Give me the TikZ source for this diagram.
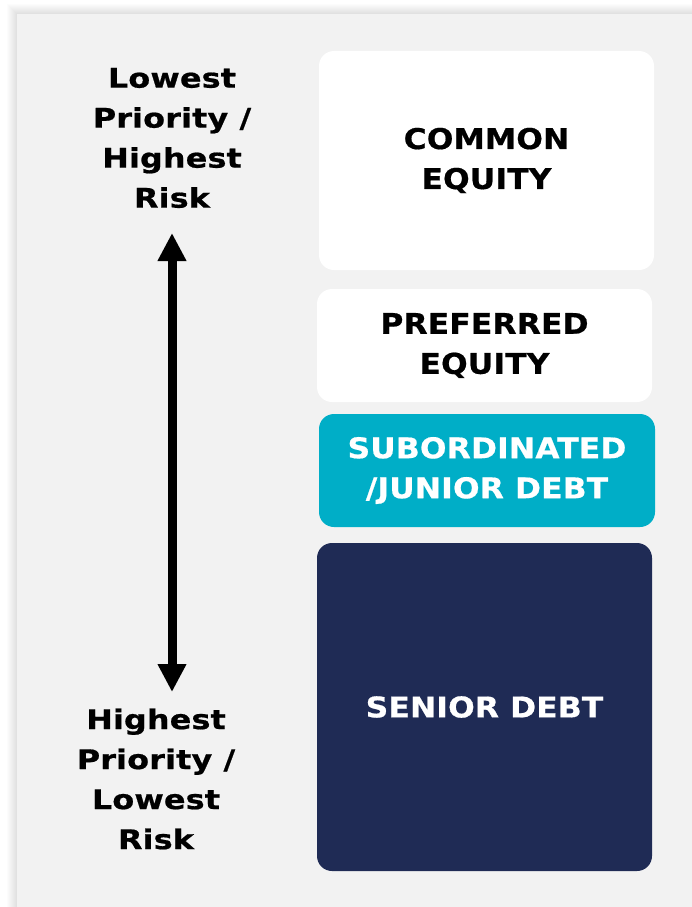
\documentclass[tikz,border=0pt]{standalone}
\usepackage{fontspec}
\setmainfont{DejaVu Sans}
\newfontfamily\tierfont{DejaVu Sans Bold}[FakeStretch=1.1, FakeBold=0.6, LetterSpace=0.5]
\newfontfamily\sidefont{DejaVu Sans Bold}[FakeStretch=1.18, FakeBold=0.7, LetterSpace=0.5]
\usetikzlibrary{arrows.meta}
\definecolor{panel}{HTML}{F2F2F2}
\definecolor{teal}{HTML}{00AEC7}
\definecolor{navy}{HTML}{1F2B55}
\tikzset{
  tier/.style={inner sep=0pt, align=center, font=\tierfont\fontsize{28.5}{40}\selectfont},
  side/.style={align=center, font=\sidefont\fontsize{27}{40}\selectfont, text=black},
}
\begin{document}
\begin{tikzpicture}[x=1pt,y=-1pt]
\useasboundingbox (0,0) rectangle (692,907);
\fill[white] (0,0) rectangle (692,907);
\foreach \i in {1,...,10}{
  \fill[black, opacity=0.01] (17-\i,14-\i) rectangle (692,907);
}
\fill[panel] (17,14) rectangle (692,907);
% tiers
\fill[white, rounded corners=15pt] (319,51) rectangle (654,270);
\node[tier] (ce) at (486.5,160.5) {COMMON\\EQUITY};
\fill[white, rounded corners=15pt] (317,289) rectangle (652,402);
\node[tier] (pe) at (484.5,345.5) {PREFERRED\\EQUITY};
\fill[teal, rounded corners=15pt] (319,414) rectangle (655,527);
\node[tier, text=white] (sd) at (487,470.5) {SUBORDINATED\\/JUNIOR DEBT};
\fill[navy, rounded corners=15pt] (317,543) rectangle (652,871);
\node[tier, text=white] (sr) at (484.5,707) {SENIOR DEBT};
% side labels
\node[side] (top) at (172,138) {Lowest\\Priority /\\Highest\\Risk};
\node[side] (bot) at (156,779) {Highest\\Priority /\\Lowest\\Risk};
\coordinate (a1) at (172,233);
\coordinate (a2) at (172,692);
\draw[line width=9pt, {Triangle[length=28pt,width=27pt]}-{Triangle[length=28pt,width=27pt]}] (a1) -- (a2);
\end{tikzpicture}
\end{document}
